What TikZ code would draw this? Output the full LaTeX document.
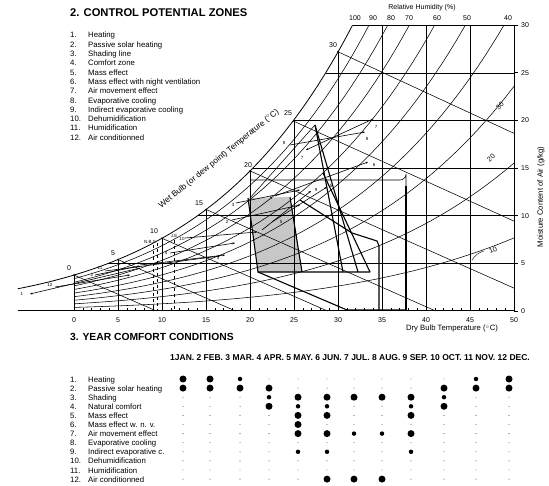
\documentclass[tikz,border=0pt]{standalone}
\usepackage{fontspec}
\setmainfont{Liberation Sans}
\usetikzlibrary{arrows.meta}
\begin{document}
\begin{tikzpicture}[x=1pt,y=-1pt,
  declare function={ps(\t)=0.61078*exp(17.27*\t/(\t+237.3)); wr(\t,\q)=622*\q*ps(\t)/(101.325-\q*ps(\t));},
  gridl/.style={line width=0.45pt},
  crv/.style={line width=0.55pt},
  zone/.style={line width=1.1pt},
  mline/.style={line width=0.6pt,-{Stealth[length=2.5pt,width=2pt]}},
  tiny/.style={font=\fontsize{4.5}{5}\selectfont,inner sep=0.5pt},
  lbl/.style={font=\fontsize{7}{7}\selectfont,inner sep=0pt},
  axt/.style={font=\fontsize{7.7}{8}\selectfont,inner sep=0pt},
  leg/.style={font=\fontsize{7.8}{8}\selectfont,inner sep=0pt,anchor=base west},
  ttl/.style={font=\bfseries\fontsize{11.2}{12}\selectfont,inner sep=0pt,anchor=base west},
  big/.style={circle,fill=black,inner sep=0pt,minimum size=7pt},
  med/.style={circle,fill=black,inner sep=0pt,minimum size=4.5pt},
  sml/.style={circle,fill=black,inner sep=0pt,minimum size=0.9pt}]
\useasboundingbox (0,0) rectangle (549,486);

% ---------- titles and legend ----------
\node[ttl] (t1) at (70,17) {2. CONTROL POTENTIAL ZONES};
\foreach \i/\txt [count=\k] in {1/Heating,2/Passive solar heating,3/Shading line,4/Comfort zone,5/Mass effect,6/Mass effect with night ventilation,7/Air movement effect,8/Evaporative cooling,9/Indirect evaporative cooling,10/Dehumidification,11/Humidification,12/Air conditionned}{
  \node[leg] (ln\k) at (70,{38+(\k-1)*9.3}) {\i.};
  \node[leg] (lt\k) at (88,{38+(\k-1)*9.3}) {\txt};
}

% ---------- comfort zone shading ----------
\fill[black!22] (248,198) -- (290,197) -- (302,272) -- (258,272) -- cycle;

% ---------- chart ----------
\begin{scope}[shift={(74,311)}, x=8.8pt, y=9.53pt]
  \draw[crv] (50,0) -- (50,30) -- (31.65,30);
  \draw[line width=1pt] (-6.4,0) -- (50,0);
  \foreach \t in {0,5,...,30} \draw[gridl] (\t,0) -- (\t,{wr(\t,1)});
  \foreach \t in {35,40,45} \draw[gridl] (\t,0) -- (\t,30);
  \foreach \w/\ts in {5/3.91,10/14.05,15/20.33,20/24.94,25/28.61} \draw[gridl] (\ts,\w) -- (50,\w);
  \draw[line width=0.8pt] plot[domain=-6.4:31.65, samples=80] (\x,{wr(\x,1)});
  \foreach \rh/\tm in {0.9/33.53,0.8/35.65,0.7/38.10,0.6/40.98,0.5/44.47,0.4/48.86,0.3/50,0.2/50,0.1/50}
    \draw[crv] plot[domain=0:\tm, samples=50] (\x,{wr(\x,\rh)});
  \draw[crv] (0,3.77) -- (9.37,0);
  \draw[crv] (5,5.40) -- (18.36,0);
  \draw[crv] (10,7.63) -- (28.8,0);
  \draw[crv] (15,10.66) -- (41.1,0);
  \draw[crv] (20,14.7) -- (50,2.4);
  \draw[crv] (25,19.9) -- (50,9.43);
  \draw[crv] (30,27.2) -- (50,18.64);
  \foreach \t/\w in {0/3.77,5/5.40,10/7.63,15/10.66,20/14.7,25/19.9,30/27.2}
    \fill (\t,\w) circle (0.9pt);
  \foreach \t in {0,...,50} \draw[line width=0.4pt] (\t,0) -- (\t,0.3);
  \foreach \w in {0,5,...,30} \draw[line width=0.5pt] (50,\w) -- (50.5,\w);
  \foreach \t in {0,5,...,50} \node[lbl] (bx\t) at (\t,-0.95) {\t};
  \foreach \w in {0,5,...,30} \node[lbl,anchor=west] (ry\w) at (50.8,\w) {\w};
\end{scope}

\foreach \v/\px/\py in {0/69/268,5/113/253,10/154/231,15/199/203,20/248/165,25/288/113,30/333/45}
  \node[lbl] (wb\v) at (\px,\py) {\v};
\foreach \v/\px in {100/355,90/373,80/391,70/409,60/437,50/467,40/508}
  \node[lbl] (rh\v) at (\px,18.5) {\v};
\node[lbl,rotate=45] (rh30) at (500,106) {30};
\node[lbl,rotate=40] (rh20) at (491,158) {20};
\node[lbl,rotate=25] (rh10) at (493,250) {10};
\draw[line width=0.4pt] (472,260) to[bend left=20] (484,251);

\node[axt] (xt) at (452,329) {Dry Bulb Temperature ($^{\circ}$C)};
\node[axt,rotate=90] (yt) at (541,197) {Moisture Content of Air (g/kg)};
\node[lbl] (rht) at (422,8) {Relative Humidity (\%)};
\node[axt,font=\fontsize{8.2}{9}\selectfont,rotate=39] (wbt) at (219,159) {Wet Bulb (or dew point) Temperature ($^{\circ}$C)};

\draw[dashed,line width=0.4pt] (153,245) -- (153,311);
\draw[dashed,line width=0.4pt] (157,243) -- (157,311);
\draw[dashed,line width=0.4pt] (174,240) -- (174,311);
\node[tiny] (nb) at (150,242) {N.B.S};
\node[tiny] (je) at (174,236) {J.E};

% ---------- zones ----------
\draw[zone] (248,198) -- (258,272) -- (370,272);
\draw[zone] (290,197) -- (302,272);
\draw[zone] (258,272) -- (347,310) -- (406,310);
\draw[crv] (250,180) -- (400,180) arc[start angle=90,end angle=0,radius=6] -- (406,186);
\draw[zone] (406,186) -- (406,310);
\draw[zone] (300,200) -- (352,233) -- (377,241) -- (379,246) -- (379,310);
\draw[zone] (315,125) -- (343,272);
\draw[zone] (315,125) -- (358,272);
\draw[zone] (323,173) -- (370,272);
\draw[crv] (315,125) -- (250,198);

% ---------- month lines ----------
\foreach \a/\b/\c/\d in {373/119/306/150, 290/145/365/132, 275/196/368/162, 272/222/327/187, 262/230/311/191, 236/203/300/190, 232/220/300/205, 185/238/257/232, 170/253/235/243, 140/265/225/255, 105/271/220/256, 95/275/140/266, 55/287/130/275, 140/268/30/294}
  \draw[mline] (\a,\b) -- (\c,\d);
\foreach \px/\py/\t in {302/158/7,376/127/7,284/143/8,367/139/8,271/198/6,374/165/6,281/222/5,331/186/5,316/190/9,233/205/3,227/222/2,182/239/10,166/253/4,218/258/3,50/285/12,22/294/1,100/268/11,92/275/2}
  \node[tiny] (m\px) at (\px,\py) {\t};

% ---------- year comfort conditions ----------
\node[ttl,font=\bfseries\fontsize{10.3}{11}\selectfont] (t2) at (70,341) {3. YEAR COMFORT CONDITIONS};
\node[inner sep=0pt,anchor=base west,font=\bfseries\fontsize{8.5}{9}\selectfont] (mh) at (170,360) {1JAN. 2 FEB. 3 MAR. 4 APR. 5 MAY. 6 JUN. 7 JUL. 8 AUG. 9 SEP. 10 OCT. 11 NOV. 12 DEC.};
\foreach \i/\txt [count=\k] in {1/Heating,2/Passive solar heating,3/Shading,4/Natural comfort,5/Mass effect,6/Mass effect  w. n. v.,7/Air movement effect,8/Evaporative cooling,9/Indirect evaporative c.,10/Dehumidification,11/Humidification,12/Air conditionned}{
  \node[leg] (bn\k) at (70,{382+(\k-1)*9.1}) {\i.};
  \node[leg] (bt\k) at (88,{382+(\k-1)*9.1}) {\txt};
}
\foreach \cx in {183,210,240,269,298,327,354,382,411,444,476,509}
  \foreach \k in {1,...,12}
    \node[sml] at (\cx,{379+(\k-1)*9.1}) {};
\foreach \cx/\k in {183/1,183/2,210/1,210/2,240/2,269/2,269/4,298/3,298/5,298/6,298/7,327/3,327/5,327/7,327/12,354/3,354/12,382/3,382/12,411/3,411/5,411/7,444/2,444/4,476/2,509/1,509/2}
  \node[big] at (\cx,{379+(\k-1)*9.1}) {};
\foreach \cx/\k in {240/1,269/3,298/4,298/9,327/4,327/9,354/7,382/7,411/4,411/9,444/3,476/1}
  \node[med] at (\cx,{379+(\k-1)*9.1}) {};
\end{tikzpicture}
\end{document}
